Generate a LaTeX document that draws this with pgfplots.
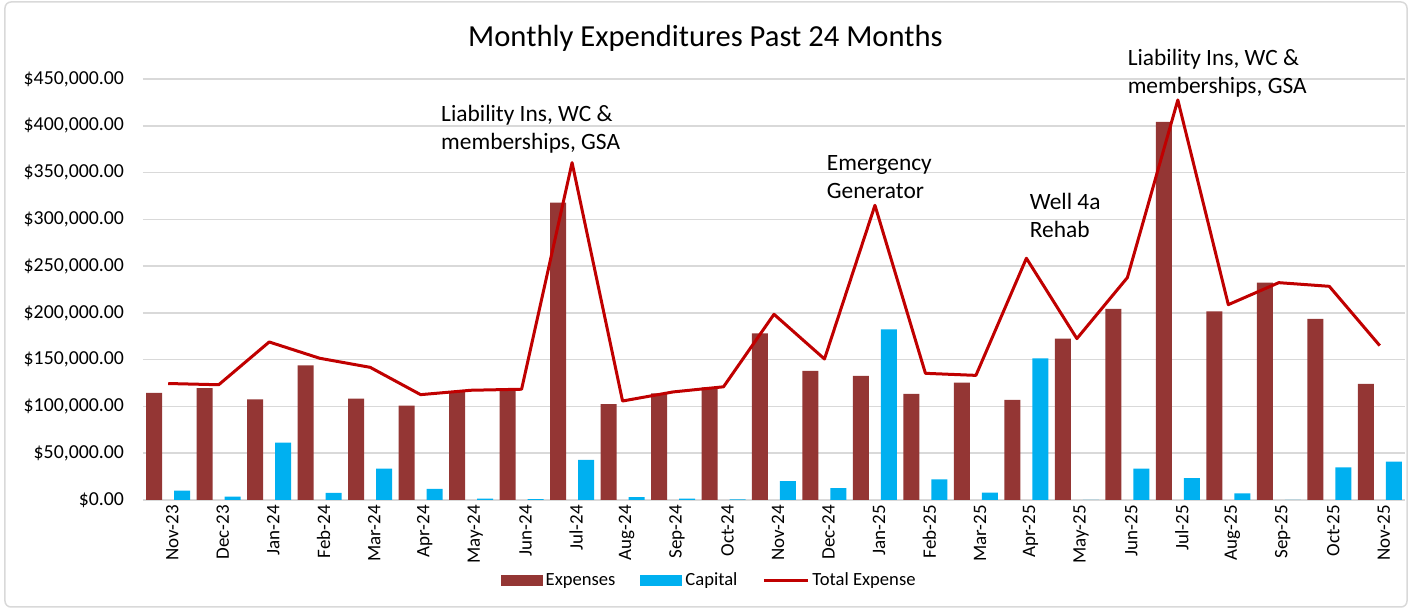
\documentclass[border=0pt]{standalone}
\usepackage{pgfplots}
\pgfplotsset{compat=1.18}
\usepackage{pgfplotstable}
\usepackage{fontspec}
\setmainfont{Carlito}
\definecolor{expc}{HTML}{943634}
\definecolor{capc}{HTML}{00B0F0}
\definecolor{totc}{HTML}{C00000}
\definecolor{gridc}{HTML}{D9D9D9}
\pgfplotstableread{
x exp cap tot
0 114500 10000 124500
1 119700 3500 123200
2 107600 61300 168900
3 144000 7500 151500
4 108300 33500 141800
5 100800 11800 112600
6 115800 1500 117300
7 117600 800 118400
8 317800 42800 360600
9 102600 3200 105800
10 114000 1500 115500
11 120400 600 121000
12 178200 20300 198500
13 137900 12800 150700
14 132600 182400 315000
15 113300 22100 135400
16 125400 7800 133200
17 106900 151500 258400
18 172500 0 172500
19 204200 33500 237700
20 404100 23500 427600
21 201700 7100 208800
22 232300 0 232300
23 193500 34900 228400
24 124000 41000 165000
}\data
\begin{document}
\begin{tikzpicture}
\path[use as bounding box] (-71.5pt,-55pt) rectangle (633.5pt,250pt);
\draw[gridc, line width=0.75pt, rounded corners=3pt] (-69pt,-53.5pt) rectangle (632pt,249pt);
\begin{axis}[
  at={(0pt,0pt)}, anchor=south west,
  scale only axis, width=631pt, height=210.5pt,
  xmin=-0.5, xmax=24.5, ymin=0, ymax=450000,
  clip=false,
  scaled y ticks=false,
  axis x line*=bottom, axis y line*=left,
  x axis line style={draw=gridc, line width=0.9pt, -},
  y axis line style={draw=none},
  major tick length=0pt,
  ymajorgrids, grid style={gridc, line width=0.75pt},
  ytick={0,50000,100000,150000,200000,250000,300000,350000,400000,450000},
  yticklabels={{\$0.00},{\$50,000.00},{\$100,000.00},{\$150,000.00},{\$200,000.00},{\$250,000.00},{\$300,000.00},{\$350,000.00},{\$400,000.00},{\$450,000.00}},
  yticklabel style={font=\fontsize{9.9}{11}\selectfont, anchor=east, xshift=-6pt},
  xtick={0,...,24},
  xticklabels={Nov-23,Dec-23,Jan-24,Feb-24,Mar-24,Apr-24,May-24,Jun-24,Jul-24,Aug-24,Sep-24,Oct-24,Nov-24,Dec-24,Jan-25,Feb-25,Mar-25,Apr-25,May-25,Jun-25,Jul-25,Aug-25,Sep-25,Oct-25,Nov-25},
  xticklabel style={font=\fontsize{9.5}{11}\selectfont, rotate=90, anchor=east, yshift=-2pt, xshift=1pt},
  /pgf/number format/assume math mode=true,
  title={Monthly Expenditures Past 24 Months},
  title style={font=\fontsize{15.3}{18}\selectfont, at={(axis description cs:0.4457,1.067)}, anchor=center, yshift=0pt, inner sep=0pt},
  legend style={at={(axis description cs:0.449,-0.192)}, anchor=center, draw=none, fill=none,
    legend columns=-1, font=\fontsize{9.3}{11}\selectfont,
    /tikz/every even column/.append style={column sep=11pt},
    nodes={inner xsep=1.5pt}},
]
\addplot[ybar, bar width=8pt, bar shift=-7pt, fill=expc, draw=none,
  legend image code/.code={\fill[expc] (0pt,-2.75pt) rectangle (21pt,2.75pt);}]
  table[x=x, y=exp] {\data};
\addlegendentry{Expenses}
\addplot[ybar, bar width=8pt, bar shift=7pt, fill=capc, draw=none,
  legend image code/.code={\fill[capc] (0pt,-2.75pt) rectangle (21pt,2.75pt);}]
  table[x=x, y=cap] {\data};
\addlegendentry{Capital}
\addplot[sharp plot, no marks, totc, line width=1.5pt, line join=round,
  legend image code/.code={\draw[totc, line width=1.5pt] (0pt,0pt) -- (22pt,0pt);}]
  table[x=x, y=tot] {\data};
\addlegendentry{Total Expense}
\node[anchor=west, align=left, inner sep=0pt, font=\fontsize{11.7}{14}\selectfont] at (axis cs:5.40,396000) {Liability Ins, WC \&\\memberships, GSA};
\node[anchor=west, align=left, inner sep=0pt, font=\fontsize{11.7}{14}\selectfont] at (axis cs:13.04,345300) {Emergency\\Generator};
\node[anchor=west, align=left, inner sep=0pt, font=\fontsize{11.7}{14}\selectfont] at (axis cs:17.06,304100) {Well 4a\\Rehab};
\node[anchor=west, align=left, inner sep=0pt, font=\fontsize{11.7}{14}\selectfont] at (axis cs:19.0,456500) {Liability Ins, WC \&\\memberships, GSA};
\end{axis}
\end{tikzpicture}
\end{document}
